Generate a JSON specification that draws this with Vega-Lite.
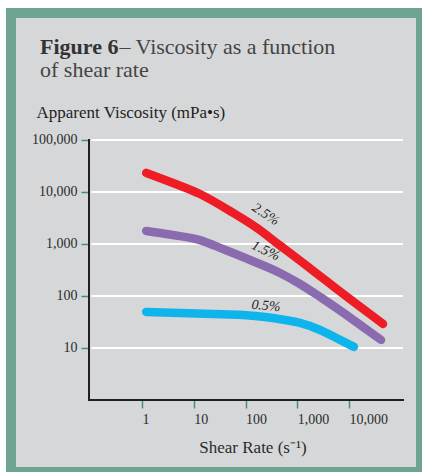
{
  "$schema": "https://vega.github.io/schema/vega-lite/v6.json",
  "width": 410,
  "height": 459,
  "autosize": {"type": "none"},
  "padding": {"left": 11, "top": 13, "right": 1, "bottom": 0},
  "background": "#ffffff",
  "config": {
    "view": {"fill": "#d6d7d9", "stroke": "#6fa391", "strokeWidth": 10},
    "font": "Liberation Serif",
    "axis": {"labelFont": "Liberation Serif", "titleFont": "Liberation Serif"}
  },
  "title": {
    "text": "Figure 6",
    "subtitle": "of shear rate",
    "orient": "top",
    "anchor": "start",
    "frame": "group",
    "baseline": "alphabetic",
    "offset": -86,
    "dx": 29,
    "font": "Liberation Serif",
    "fontSize": 22,
    "fontWeight": "bold",
    "color": "#333333",
    "subtitleFont": "Liberation Serif",
    "subtitleFontSize": 22,
    "subtitleFontWeight": "normal",
    "subtitleColor": "#444444",
    "subtitlePadding": 1
  },
  "layer": [
    {
      "data": {"values": [{"v": 10}, {"v": 100}, {"v": 1000}, {"v": 10000}, {"v": 100000}]},
      "mark": {"type": "rule", "color": "#ffffff", "strokeWidth": 2},
      "encoding": {
        "y": {"field": "v", "type": "quantitative", "scale": {"type": "log", "domain": [0.04121, 27670000], "nice": false}, "axis": null},
        "x": {
          "datum": 0.105, "type": "quantitative",
          "scale": {"type": "log", "domain": [0.002931, 244900], "nice": false},
          "axis": {
            "orient": "top", "domain": false, "ticks": false, "labels": false, "grid": false,
            "title": "– Viscosity as a function",
            "titleX": 108, "titleY": 40, "titleAlign": "left", "titleBaseline": "alphabetic", "titleAngle": 0,
            "titleFont": "Liberation Serif", "titleFontSize": 22, "titleFontWeight": "normal", "titleColor": "#444444"
          }
        },
        "x2": {"datum": 110100}
      }
    },
    {
      "data": {"values": [{}]},
      "mark": {"type": "rule", "color": "#231f20", "strokeWidth": 2, "strokeCap": "square"},
      "encoding": {
        "x": {"datum": 0.0942, "type": "quantitative", "scale": {"type": "log", "domain": [0.002931, 244900], "nice": false}, "axis": null},
        "y": {"datum": 1, "type": "quantitative", "scale": {"type": "log", "domain": [0.04121, 27670000], "nice": false}, "axis": null},
        "y2": {"datum": 100000}
      }
    },
    {
      "data": {"values": [{}]},
      "mark": {"type": "rule", "color": "#231f20", "strokeWidth": 2, "strokeCap": "square"},
      "encoding": {
        "x": {"datum": 0.0942, "type": "quantitative", "scale": {"type": "log", "domain": [0.002931, 244900], "nice": false}, "axis": null},
        "x2": {"datum": 110100},
        "y": {"datum": 1, "type": "quantitative", "scale": {"type": "log", "domain": [0.04121, 27670000], "nice": false}, "axis": null}
      }
    },
    {
      "data": {"values": [
        {"series": "2.5%", "rate": 1.2, "viscosity": 23300},
        {"series": "2.5%", "rate": 3.95, "viscosity": 14900},
        {"series": "2.5%", "rate": 13.1, "viscosity": 9150},
        {"series": "2.5%", "rate": 50, "viscosity": 4310},
        {"series": "2.5%", "rate": 166, "viscosity": 2030},
        {"series": "2.5%", "rate": 462, "viscosity": 935},
        {"series": "2.5%", "rate": 1285, "viscosity": 431},
        {"series": "2.5%", "rate": 3740, "viscosity": 190},
        {"series": "2.5%", "rate": 11900, "viscosity": 78.4},
        {"series": "2.5%", "rate": 45200, "viscosity": 29},
        {"series": "1.5%", "rate": 1.2, "viscosity": 1780},
        {"series": "1.5%", "rate": 3.95, "viscosity": 1490},
        {"series": "1.5%", "rate": 13.1, "viscosity": 1190},
        {"series": "1.5%", "rate": 36.5, "viscosity": 800},
        {"series": "1.5%", "rate": 122, "viscosity": 492},
        {"series": "1.5%", "rate": 462, "viscosity": 277},
        {"series": "1.5%", "rate": 1125, "viscosity": 170},
        {"series": "1.5%", "rate": 2740, "viscosity": 96},
        {"series": "1.5%", "rate": 8340, "viscosity": 45},
        {"series": "1.5%", "rate": 18600, "viscosity": 25.3},
        {"series": "1.5%", "rate": 41300, "viscosity": 14.3},
        {"series": "0.5%", "rate": 1.2, "viscosity": 49.3},
        {"series": "0.5%", "rate": 5.4, "viscosity": 47.1},
        {"series": "0.5%", "rate": 23.4, "viscosity": 45},
        {"series": "0.5%", "rate": 89, "viscosity": 43.1},
        {"series": "0.5%", "rate": 238, "viscosity": 39.5},
        {"series": "0.5%", "rate": 577, "viscosity": 34.5},
        {"series": "0.5%", "rate": 1125, "viscosity": 30.3},
        {"series": "0.5%", "rate": 2740, "viscosity": 22.2},
        {"series": "0.5%", "rate": 6670, "viscosity": 14.3},
        {"series": "0.5%", "rate": 12400, "viscosity": 10.5}
      ]},
      "mark": {"type": "line", "strokeWidth": 8.5, "strokeCap": "round", "strokeJoin": "round", "interpolate": "monotone"},
      "encoding": {
        "x": {
          "field": "rate", "type": "quantitative",
          "scale": {"type": "log", "domain": [0.002931, 244900], "nice": false},
          "axis": {
            "orient": "bottom", "offset": -73, "values": [1, 10, 100, 1000, 10000], "format": ",",
            "domain": false, "grid": false, "tickColor": "#4a8c7a", "tickWidth": 1.5, "tickSize": 9,
            "labelAlign": "left", "labelDx": -5, "labelPadding": 4, "labelFont": "Liberation Serif", "labelFontSize": 14,
            "labelColor": "#2b2b2b", "labelOverlap": false, "labelFlush": false,
            "title": "Shear Rate (s⁻¹)", "titleX": 241.5, "titleY": 53, "titleAlign": "center", "titleBaseline": "alphabetic",
            "titleFont": "Liberation Serif", "titleFontSize": 17, "titleFontWeight": "normal", "titleColor": "#2b2b2b"
          }
        },
        "y": {
          "field": "viscosity", "type": "quantitative",
          "scale": {"type": "log", "domain": [0.04121, 27670000], "nice": false},
          "axis": {
            "orient": "left", "offset": -78, "values": [10, 100, 1000, 10000, 100000], "format": ",",
            "domain": false, "grid": false, "tickColor": "#4a8c7a", "tickWidth": 1.5, "tickSize": 8,
            "labelPadding": 4, "labelFont": "Liberation Serif", "labelFontSize": 14, "labelColor": "#2b2b2b",
            "labelOverlap": false, "labelFlush": false, "labelBaseline": "middle",
            "title": "Apparent Viscosity (mPa•s)", "titleAngle": 0, "titleAlign": "left", "titleBaseline": "alphabetic",
            "titleX": -53, "titleY": 104, "titleFont": "Liberation Serif", "titleFontSize": 17, "titleFontWeight": "normal", "titleColor": "#1f1f1f"
          }
        },
        "color": {
          "field": "series", "type": "nominal",
          "scale": {"domain": ["2.5%", "1.5%", "0.5%"], "range": ["#ee1c25", "#8a6bb0", "#0db5ec"]},
          "legend": null
        }
      }
    },
    {
      "data": {"values": [{"label": "2.5%", "rate": 245, "viscosity": 3700}]},
      "mark": {"type": "text", "angle": 33, "font": "Liberation Serif", "fontStyle": "italic", "fontSize": 14, "color": "#231f20", "align": "center", "baseline": "middle"},
      "encoding": {
        "x": {"field": "rate", "type": "quantitative", "scale": {"type": "log", "domain": [0.002931, 244900], "nice": false}, "axis": null},
        "y": {"field": "viscosity", "type": "quantitative", "scale": {"type": "log", "domain": [0.04121, 27670000], "nice": false}, "axis": null},
        "text": {"field": "label"}
      }
    },
    {
      "data": {"values": [{"label": "1.5%", "rate": 245, "viscosity": 740}]},
      "mark": {"type": "text", "angle": 25, "font": "Liberation Serif", "fontStyle": "italic", "fontSize": 14, "color": "#231f20", "align": "center", "baseline": "middle"},
      "encoding": {
        "x": {"field": "rate", "type": "quantitative", "scale": {"type": "log", "domain": [0.002931, 244900], "nice": false}, "axis": null},
        "y": {"field": "viscosity", "type": "quantitative", "scale": {"type": "log", "domain": [0.04121, 27670000], "nice": false}, "axis": null},
        "text": {"field": "label"}
      }
    },
    {
      "data": {"values": [{"label": "0.5%", "rate": 248, "viscosity": 64.2}]},
      "mark": {"type": "text", "angle": 5, "font": "Liberation Serif", "fontStyle": "italic", "fontSize": 14, "color": "#231f20", "align": "center", "baseline": "middle"},
      "encoding": {
        "x": {"field": "rate", "type": "quantitative", "scale": {"type": "log", "domain": [0.002931, 244900], "nice": false}, "axis": null},
        "y": {"field": "viscosity", "type": "quantitative", "scale": {"type": "log", "domain": [0.04121, 27670000], "nice": false}, "axis": null},
        "text": {"field": "label"}
      }
    }
  ],
  "resolve": {"axis": {"x": "independent", "y": "independent"}}
}
